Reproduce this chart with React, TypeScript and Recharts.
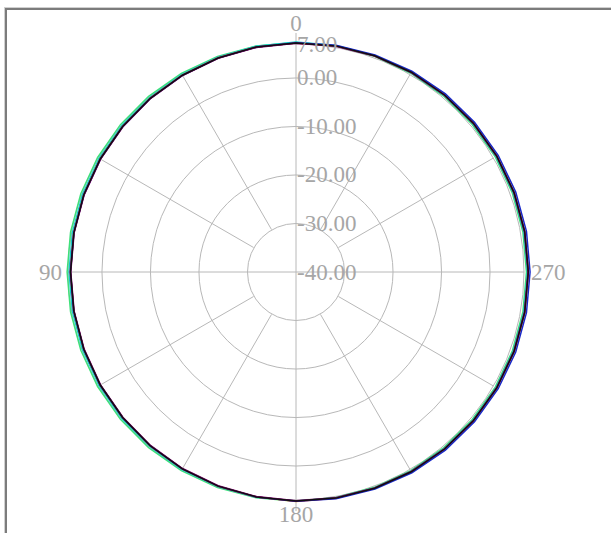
import { RadarChart, Radar, PolarGrid, PolarAngleAxis, PolarRadiusAxis } from "recharts";

// measured pattern, dB, every 10 degrees (0 = top, counter-clockwise)
const ANGLES = [
    0, 10, 20, 30, 40, 50, 60, 70, 80, 90, 100, 110,
    120, 130, 140, 150, 160, 170, 180, 190, 200, 210, 220, 230,
    240, 250, 260, 270, 280, 290, 300, 310, 320, 330, 340, 350,
];

const BLACK = [7.22, 7.1, 6.95, 6.83, 6.74, 6.66, 6.6, 6.55, 6.5, 6.48, 6.5, 6.55, 6.6, 6.67, 6.76, 6.86, 6.97, 7.08, 7.21, 7.33, 7.45, 7.55, 7.64, 7.72, 7.8, 7.85, 7.88, 7.89, 7.88, 7.85, 7.8, 7.73, 7.64, 7.55, 7.44, 7.33];
const BLUE = [7.25, 7.08, 6.92, 6.8, 6.7, 6.62, 6.56, 6.52, 6.5, 6.5, 6.52, 6.55, 6.6, 6.66, 6.74, 6.86, 6.98, 7.12, 7.28, 7.46, 7.62, 7.78, 7.92, 8.04, 8.13, 8.2, 8.24, 8.25, 8.24, 8.2, 8.13, 8.04, 7.92, 7.78, 7.62, 7.44];
const PURPLE = [7.14, 7.0, 6.88, 6.77, 6.67, 6.58, 6.51, 6.47, 6.44, 6.43, 6.44, 6.47, 6.52, 6.59, 6.68, 6.78, 6.89, 7.01, 7.13, 7.25, 7.37, 7.47, 7.57, 7.66, 7.73, 7.78, 7.81, 7.82, 7.81, 7.78, 7.73, 7.66, 7.57, 7.47, 7.36, 7.25];
const MAGENTA = [7.18, 7.12, 6.99, 6.88, 6.78, 6.69, 6.62, 6.57, 6.54, 6.53, 6.54, 6.57, 6.62, 6.69, 6.78, 6.88, 6.99, 7.1, 7.24, 7.35, 7.47, 7.57, 7.67, 7.76, 7.83, 7.88, 7.91, 7.92, 7.91, 7.88, 7.83, 7.76, 7.67, 7.57, 7.47, 7.35];
const GREEN = [7.3, 7.3, 7.3, 7.28, 7.26, 7.24, 7.22, 7.2, 7.19, 7.18, 7.19, 7.2, 7.22, 7.24, 7.26, 7.28, 7.28, 7.26, 7.24, 7.22, 7.24, 7.28, 7.32, 7.38, 7.44, 7.48, 7.5, 7.51, 7.5, 7.48, 7.44, 7.38, 7.34, 7.32, 7.3, 7.3];
const CYAN = [7.4, 7.26, 7.14, 7.04, 6.96, 6.9, 6.85, 6.82, 6.8, 6.79, 6.8, 6.82, 6.85, 6.9, 6.96, 7.02, 7.08, 7.16, 7.22, 7.3, 7.38, 7.46, 7.54, 7.6, 7.65, 7.69, 7.71, 7.72, 7.71, 7.69, 7.65, 7.6, 7.54, 7.48, 7.44, 7.4];
const ORANGE = [7.2, 7.08, 6.97, 6.86, 6.76, 6.67, 6.6, 6.55, 6.52, 6.51, 6.52, 6.55, 6.6, 6.67, 6.76, 6.86, 6.98, 7.12, 7.3, 7.38, 7.46, 7.56, 7.66, 7.75, 7.82, 7.87, 7.9, 7.91, 7.9, 7.87, 7.82, 7.75, 7.66, 7.56, 7.45, 7.33];

const RADIUS_TICKS = [-40, -30, -20, -10, 0, 7];
const ANGLE_TICKS = [0, 90, 180, 270];

const SERIES = [
    { key: "green", color: "#3ee07a" },
    { key: "cyan", color: "#10c8c8" },
    { key: "orange", color: "#f0a020" },
    { key: "magenta", color: "#e0206a" },
    { key: "blue", color: "#1828c8" },
    { key: "purple", color: "#800070" },
    { key: "black", color: "#101010" },
];

const data = ANGLES.map((angle, i) => ({
    angle,
    black: BLACK[i],
    blue: BLUE[i],
    purple: PURPLE[i],
    magenta: MAGENTA[i],
    green: GREEN[i],
    cyan: CYAN[i],
    orange: ORANGE[i],
}));

const W = 611;
const H = 533;
const CX = 296;
const CY = 272;
const R = 228;
const LABEL = "#a6a6a6";
const GRID = "#b8b8b8";
const FONT = "'Liberation Serif', 'DejaVu Serif', serif";

const AngleTick = ({ x, y, payload }: any) => {
    const v = Number(payload.value);
    if (!ANGLE_TICKS.includes(v)) return null;
    let anchor = "middle";
    let baseline = "central";
    let dx = 0;
    let dy = 0;
    if (v === 0) { baseline = "auto"; dy = -5; }
    if (v === 180) { baseline = "hanging"; dy = -2; }
    if (v === 90) { anchor = "end"; dx = 2; }
    if (v === 270) { anchor = "start"; dx = -1; }
    return (
        <text x={x + dx} y={y + dy} textAnchor={anchor} dominantBaseline={baseline}
            fill={LABEL} fontSize={23} fontFamily={FONT}>
            {v}
        </text>
    );
};

const RadiusTick = ({ x, y, payload }: any) => (
    <text x={x + 1} y={y} textAnchor="start" dominantBaseline="central"
        fill={LABEL} fontSize={23} fontFamily={FONT}>
        {Number(payload.value).toFixed(2)}
    </text>
);

const layer: any = { position: "absolute", left: 0, top: 0 };
const margin = { top: 0, right: 0, bottom: 0, left: 0 };

export default function App() {
    return (
        <div style={{ position: "absolute", left: 0, top: 0, width: W, height: H, background: "#fff", overflow: "hidden" }}>
            <div style={{ position: "absolute", left: 4, top: 7, width: W - 4, height: H - 7, borderTop: "1px solid #d0d0d0", borderLeft: "1px solid #d0d0d0" }} />
            <div style={{ position: "absolute", left: 5, top: 8, width: W - 5, height: H - 8, borderTop: "2px solid #7c7c7c", borderLeft: "2px solid #7c7c7c" }} />

            {/* diagonal spokes, starting at the -30 ring */}
            <div style={layer}>
                <RadarChart width={W} height={H} data={data} cx={CX} cy={CY} innerRadius={49} outerRadius={R}
                    startAngle={90} endAngle={450} margin={margin}>
                    <PolarGrid gridType="circle" polarRadius={[]} polarAngles={[30, 60, 120, 150, 210, 240, 300, 330]}
                        stroke={GRID} />
                </RadarChart>
            </div>

            {/* vertical axis, a bit past the outer ring */}
            <div style={layer}>
                <RadarChart width={W} height={H} data={data} cx={CX} cy={CY} innerRadius={0} outerRadius={R + 11}
                    startAngle={90} endAngle={450} margin={margin}>
                    <PolarGrid gridType="circle" polarRadius={[]} polarAngles={[90, 270]} stroke={GRID} />
                </RadarChart>
            </div>

            <div style={layer}>
                <RadarChart width={W} height={H} data={data} cx={CX} cy={CY} innerRadius={0} outerRadius={R}
                    startAngle={90} endAngle={450} margin={margin}>
                    <PolarGrid gridType="circle" polarAngles={[0, 180]} stroke={GRID} />
                    <PolarAngleAxis dataKey="angle" type="number" domain={[0, 360]} ticks={ANGLE_TICKS}
                        tick={<AngleTick />} axisLine={false} tickLine={false} tickSize={8} />
                    <PolarRadiusAxis angle={90} type="number" domain={[-40, 7]} ticks={RADIUS_TICKS}
                        allowDataOverflow tick={<RadiusTick />} axisLine={false} tickLine={false} />
                    {SERIES.map((s) => (
                        <Radar key={s.key} dataKey={s.key} stroke={s.color} strokeWidth={1.5}
                            fill="none" fillOpacity={0} dot={false} isAnimationActive={false} />
                    ))}
                </RadarChart>
            </div>
        </div>
    );
}
